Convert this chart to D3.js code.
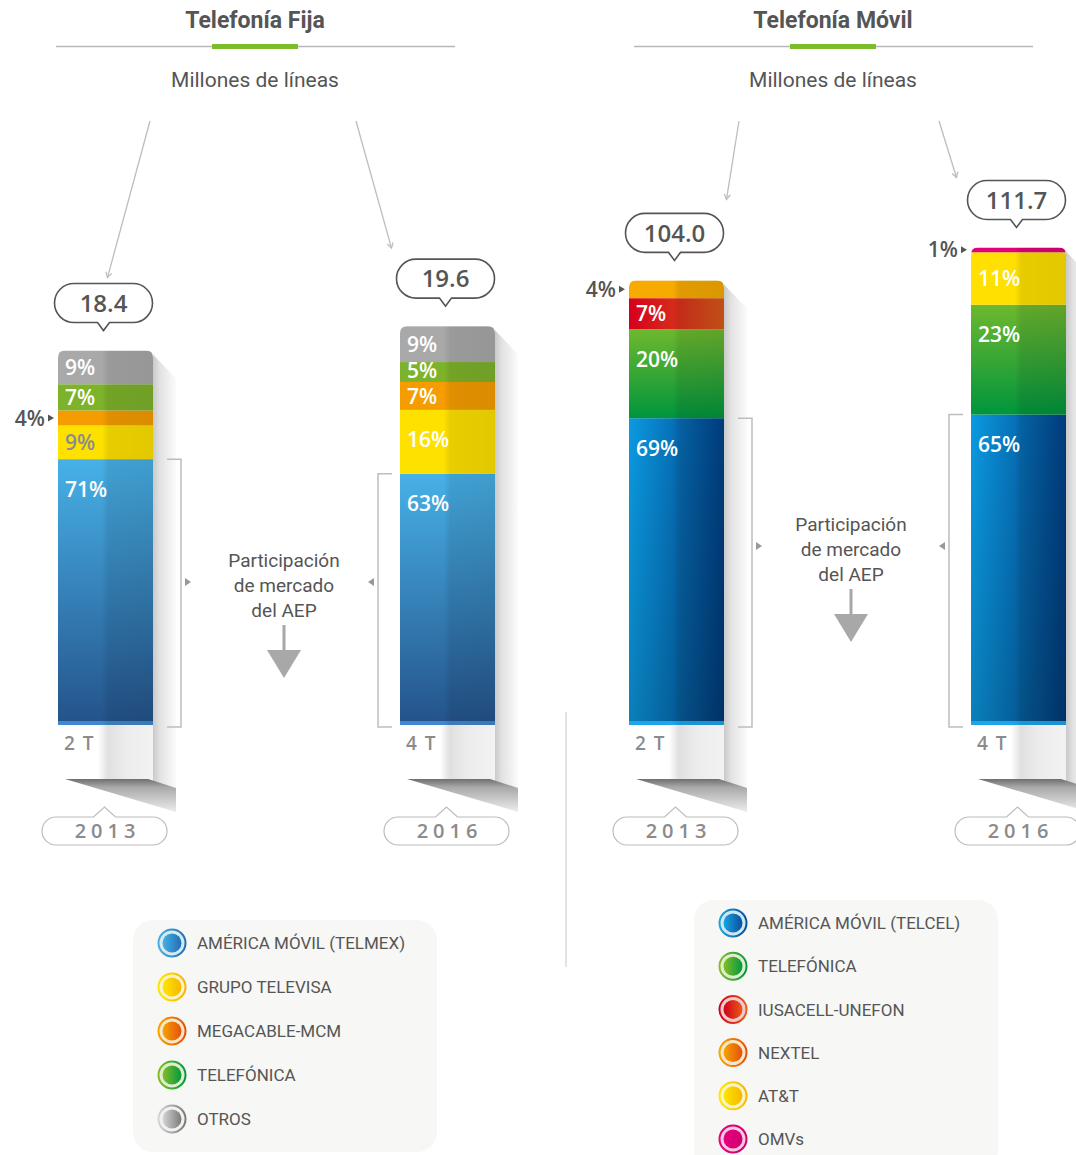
<!DOCTYPE html>
<html>
<head>
<meta charset="utf-8">
<script src="https://cdn.jsdelivr.net/npm/d3@7"></script>
<style>
  body { margin: 0; background: #fff; }
  svg { display: block; font-family: Roboto, "Noto Sans", sans-serif; }
</style>
</head>
<body>
<svg id="chart" width="1076" height="1155"></svg>
<script>
// ---- data (millones de líneas, participación %) ----
const fijaYears = ["2013", "2016"];
const fijaQuarters = ["2 T", "4 T"];
const fijaTotals = [18.4, 19.6];
const fijaCompanies = ["AMÉRICA MÓVIL (TELMEX)", "GRUPO TELEVISA", "MEGACABLE-MCM", "TELEFÓNICA", "OTROS"];
const fijaShares2013 = [71, 9, 4, 7, 9];
const fijaShares2016 = [63, 16, 7, 5, 9];

const movilYears = ["2013", "2016"];
const movilQuarters = ["2 T", "4 T"];
const movilTotals = [104.0, 111.7];
const movilCompanies = ["AMÉRICA MÓVIL (TELCEL)", "TELEFÓNICA", "IUSACELL-UNEFON", "NEXTEL", "AT&T", "OMVs"];
const movilShares2013 = [69, 20, 7, 4, 0, 0];
const movilShares2016 = [65, 23, 0, 0, 11, 1];

const aepLines = ["Participación", "de mercado", "del AEP"];

// ---- styles ----
// [direction, top/left colour, bottom/right colour, extra vertical shade]
const fijaSegStyle = [
  ["v", "#47b1e7", "#24528a", false],
  ["h", "#ffe100", "#ffe100", false],
  ["h", "#f59d00", "#f59d00", false],
  ["h", "#7db32a", "#7db32a", false],
  ["h", "#a9a9a9", "#a9a9a9", false]
];
const movilSegStyle = [
  ["h", "#0b9ae1", "#00428a", true],
  ["v", "#6eb82e", "#00953d", false],
  ["h", "#d6001d", "#d75a1a", false],
  ["h", "#f7aa00", "#f7aa00", false],
  ["h", "#ffe000", "#ffe000", false],
  ["h", "#e2007b", "#e2007b", false]
];
const fijaMarkStyle = [["#48b0e4", "#1f6fb8"], ["#ffe600", "#f6b600"], ["#f7a300", "#e4500f"], ["#84bd28", "#009a3f"], ["#d6d6d6", "#7a7a7a"]];
const movilMarkStyle = [["#1aa3e3", "#0a4f9c"], ["#84bd28", "#009a3f"], ["#cf001a", "#ea5a18"], ["#f7a300", "#e4500f"], ["#ffe600", "#f6b600"], ["#e6007e", "#d0006f"]];

const svg = d3.select("#chart");
const defs = svg.append("defs");

function linGrad(id, dir, stops) {
  const g = defs.append("linearGradient").attr("id", id)
    .attr("x1", 0).attr("y1", 0)
    .attr("x2", dir === "h" ? 1 : 0).attr("y2", dir === "h" ? 0 : 1);
  stops.forEach(s => g.append("stop")
    .attr("offset", s[0]).attr("stop-color", s[1])
    .attr("stop-opacity", s[2] == null ? 1 : s[2]));
  return "url(#" + id + ")";
}

const halfShade = linGrad("halfShade", "h", [[0, "#000", 0], [0.46, "#000", 0], [0.53, "#000", 0.09], [1, "#000", 0.11]]);
const vertShade = linGrad("vertShade", "v", [[0, "#000", 0], [1, "#000", 0.17]]);
const sideShadow = linGrad("sideShadow", "h", [[0, "#c9c9c9"], [0.3, "#e2e2e2"], [1, "#fbfbfb"]]);
const underShadow = linGrad("underShadow", "h", [[0, "#fff"], [0.18, "#e0e0e0"], [0.5, "#ececec"], [1, "#f2f2f2"]]);
const wedgeFill = linGrad("wedgeFill", "v", [[0, "#6f6f6f"], [0.25, "#a9a9a9"], [1, "#ededed"]]);

const fijaY = d3.scaleLinear().domain([0, 20]).range([725, 318]);
const movilY = d3.scaleLinear().domain([0, 120]).range([725, 212]);

const panels = [
  {
    key: "f", title: "Telefonía Fija", cx: 255,
    years: fijaYears, quarters: fijaQuarters, totals: fijaTotals,
    companies: fijaCompanies, shares: [fijaShares2013, fijaShares2016],
    seg: fijaSegStyle, mark: fijaMarkStyle, y: fijaY, xRange: [58, 495],
    base: "#3f88cf", textCx: 284, textY: 567,
    legend: { x: 133, y: 920, w: 304, h: 232, first: 943, step: 44 },
    arrowStart: [-105, 101], arrowEnd: [[4, -6], [-54, -11]]
  },
  {
    key: "m", title: "Telefonía Móvil", cx: 833,
    years: movilYears, quarters: movilQuarters, totals: movilTotals,
    companies: movilCompanies, shares: [movilShares2013, movilShares2016],
    seg: movilSegStyle, mark: movilMarkStyle, y: movilY, xRange: [629, 1066],
    base: "#1ea4ea", textCx: 851, textY: 531,
    legend: { x: 694, y: 900, w: 304, h: 270, first: 923, step: 43.2 },
    arrowStart: [-94, 106], arrowEnd: [[52, -14], [-60, -3]]
  }
];

// divider between panels
svg.append("line").attr("x1", 566).attr("x2", 566).attr("y1", 712).attr("y2", 967)
  .attr("stroke", "#c8c8c8").attr("stroke-width", 1);

panels.forEach(p => {
  const g = svg.append("g");
  const x = d3.scaleBand().domain(p.years).range(p.xRange).paddingInner(247 / 342);
  const bw = x.bandwidth();
  const y = p.y;

  // header
  g.append("text").attr("x", p.cx).attr("y", 28).attr("text-anchor", "middle")
    .attr("font-size", 23).attr("font-weight", 700).attr("fill", "#555").text(p.title);
  g.append("line").attr("x1", p.cx - 199).attr("x2", p.cx + 200).attr("y1", 46.5).attr("y2", 46.5)
    .attr("stroke", "#b8b8b8").attr("stroke-width", 1.5);
  g.append("line").attr("x1", p.cx - 43).attr("x2", p.cx + 43).attr("y1", 46.5).attr("y2", 46.5)
    .attr("stroke", "#7cbd2c").attr("stroke-width", 5);
  g.append("text").attr("x", p.cx).attr("y", 87).attr("text-anchor", "middle")
    .attr("font-size", 21).attr("fill", "#555").text("Millones de líneas");

  // gradients per company
  const segFill = p.seg.map((s, j) => linGrad("seg-" + p.key + j, s[0], [[0, s[1]], [1, s[2]]]));

  // stack values in millions
  const rows = p.years.map((yr, i) => {
    const r = { year: yr };
    p.companies.forEach((c, j) => { r[c] = p.totals[i] * p.shares[i][j] / 100; });
    return r;
  });
  const series = d3.stack().keys(p.companies)(rows);

  p.years.forEach((yr, i) => {
    const bx = x(yr);
    const top = y(p.totals[i]);
    const bottom = y(0);
    const cxb = bx + bw / 2;

    // shadows
    g.append("rect").attr("x", bx + 40).attr("y", bottom).attr("width", bw - 40).attr("height", 56)
      .attr("fill", underShadow);
    g.append("polygon")
      .attr("points", [[bx + bw, top + 4], [bx + bw + 23, top + 28], [bx + bw + 23, 812], [bx + bw, 790]].join(" "))
      .attr("fill", sideShadow);
    g.append("polygon")
      .attr("points", [[bx + 7, 779], [bx + 90, 779], [bx + bw + 23, 788], [bx + bw + 23, 812]].join(" "))
      .attr("fill", wedgeFill);

    // bar clip with rounded top
    const r = 7;
    defs.append("clipPath").attr("id", "clip-" + p.key + i)
      .append("path")
      .attr("d", `M${bx},${bottom} V${top + r} Q${bx},${top} ${bx + r},${top} H${bx + bw - r} Q${bx + bw},${top} ${bx + bw},${top + r} V${bottom} Z`);
    const bar = g.append("g").attr("clip-path", "url(#clip-" + p.key + i + ")");

    series.forEach((s, j) => {
      const d = s[i];
      if (p.shares[i][j] <= 0) return;
      const y0 = y(d[1]), y1 = y(d[0]);
      bar.append("rect").attr("x", bx).attr("y", y0).attr("width", bw).attr("height", y1 - y0)
        .attr("fill", segFill[j]);
      if (p.seg[j][3]) {
        bar.append("rect").attr("x", bx).attr("y", y0).attr("width", bw).attr("height", y1 - y0)
          .attr("fill", vertShade);
      }
    });
    bar.append("rect").attr("x", bx).attr("y", bottom - 4).attr("width", bw).attr("height", 4)
      .attr("fill", p.base);
    bar.append("rect").attr("x", bx).attr("y", top).attr("width", bw).attr("height", bottom - top)
      .attr("fill", halfShade);

    // share labels
    series.forEach((s, j) => {
      const d = s[i];
      const share = p.shares[i][j];
      if (share <= 0) return;
      const y0 = y(d[1]), y1 = y(d[0]);
      const h = y1 - y0;
      if (share >= 5) {
        const yellow = p.seg[j][1] === "#ffe100" || p.seg[j][1] === "#ffe000";
        const ly = h < 22 ? y0 + h / 2 - 2 : y0 + Math.min(h / 2, 30);
        g.append("text").attr("x", bx + 7).attr("y", ly).attr("dy", "0.36em")
          .attr("font-family", "'Open Sans', sans-serif").attr("font-weight", 600).attr("font-size", 21)
          .attr("fill", yellow && share < 10 ? "#8c8c8c" : "#fff").text(share + "%");
      } else {
        const ym = (y0 + y1) / 2;
        g.append("text").attr("x", bx - 13).attr("y", ym).attr("dy", "0.36em").attr("text-anchor", "end")
          .attr("font-family", "'Open Sans', sans-serif").attr("font-weight", 600).attr("font-size", 21)
          .attr("fill", "#555").text(share + "%");
        g.append("path").attr("d", `M${bx - 10},${ym - 3.5} L${bx - 4},${ym} L${bx - 10},${ym + 3.5} Z`)
          .attr("fill", "#555");
      }
    });

    // total bubble
    const bcx = cxb - 2, bb = top - 28, bt = bb - 39, hw = 49, rr = 19.5;
    g.append("path")
      .attr("d", `M${bcx - hw + rr},${bt} H${bcx + hw - rr} A${rr},${rr} 0 0 1 ${bcx + hw - rr},${bb} H${bcx + 6} L${bcx},${bb + 8} L${bcx - 6},${bb} H${bcx - hw + rr} A${rr},${rr} 0 0 1 ${bcx - hw + rr},${bt} Z`)
      .attr("fill", "#fff").attr("stroke", "#555").attr("stroke-width", 1.6);
    g.append("text").attr("x", bcx).attr("y", bt + 19.5).attr("dy", "0.36em").attr("text-anchor", "middle")
      .attr("font-family", "'Open Sans', sans-serif").attr("font-weight", 600).attr("font-size", 24)
      .attr("fill", "#555").text(d3.format(".1f")(p.totals[i]));

    // thin pointer from subtitle
    const sx = p.cx + p.arrowStart[i], sy = 121;
    const ex = bcx + p.arrowEnd[i][0], ey = bt + p.arrowEnd[i][1];
    g.append("line").attr("x1", sx).attr("y1", sy).attr("x2", ex).attr("y2", ey)
      .attr("stroke", "#bdbdbd").attr("stroke-width", 1.3);
    const ang = Math.atan2(ey - sy, ex - sx);
    const a1 = ang + Math.PI * 0.83, a2 = ang - Math.PI * 0.83;
    g.append("path")
      .attr("d", `M${ex + 6 * Math.cos(a1)},${ey + 6 * Math.sin(a1)} L${ex},${ey} L${ex + 6 * Math.cos(a2)},${ey + 6 * Math.sin(a2)}`)
      .attr("fill", "none").attr("stroke", "#bdbdbd").attr("stroke-width", 1.3);

    // AEP bracket
    const aepTop = y(series[0][i][1]);
    const side = i === 0 ? 1 : -1;
    const brx = side > 0 ? bx + bw + 28 : bx - 22;
    g.append("path")
      .attr("d", `M${brx - 14 * side},${aepTop} H${brx} V${bottom + 2} H${brx - 14 * side}`)
      .attr("fill", "none").attr("stroke", "#bdbdbd").attr("stroke-width", 1.5);
    const ay = p.textY + 15;
    g.append("path")
      .attr("d", `M${brx + 4 * side},${ay - 4} L${brx + 10 * side},${ay} L${brx + 4 * side},${ay + 4} Z`)
      .attr("fill", "#999");

    // quarter label
    g.append("text").attr("x", bx + 6).attr("y", 750).attr("font-family", "'Open Sans', sans-serif")
      .attr("font-weight", 600).attr("font-size", 19).attr("letter-spacing", 1.5).attr("fill", "#8b8b8b")
      .text(p.quarters[i]);

    // year pill
    const pcx = cxb - 1, pt = 817, pb = 845, phw = 62.5, pr = 14;
    g.append("path")
      .attr("d", `M${pcx - phw + pr},${pt} H${pcx - 11} L${pcx},${pt - 10} L${pcx + 11},${pt} H${pcx + phw - pr} A${pr},${pr} 0 0 1 ${pcx + phw - pr},${pb} H${pcx - phw + pr} A${pr},${pr} 0 0 1 ${pcx - phw + pr},${pt} Z`)
      .attr("fill", "#fff").attr("stroke", "#bcbcbc").attr("stroke-width", 1.2);
    g.append("text").attr("x", pcx + 3).attr("y", 831).attr("dy", "0.36em").attr("text-anchor", "middle")
      .attr("font-family", "'Open Sans', sans-serif").attr("font-weight", 600).attr("font-size", 20)
      .attr("letter-spacing", 5).attr("fill", "#8b8b8b").text(yr);
  });

  // AEP note
  aepLines.forEach((t, k) => {
    g.append("text").attr("x", p.textCx).attr("y", p.textY + k * 25).attr("text-anchor", "middle")
      .attr("font-size", 19).attr("fill", "#555").text(t);
  });
  g.append("rect").attr("x", p.textCx - 1.5).attr("y", p.textY + 58).attr("width", 3).attr("height", 26)
    .attr("fill", "#a8a8a8");
  g.append("path")
    .attr("d", `M${p.textCx - 17},${p.textY + 83} L${p.textCx + 17},${p.textY + 83} L${p.textCx},${p.textY + 111} Z`)
    .attr("fill", "#a8a8a8");

  // legend
  const L = p.legend;
  g.append("rect").attr("x", L.x).attr("y", L.y).attr("width", L.w).attr("height", L.h).attr("rx", 20)
    .attr("fill", "#f7f7f5");
  const ly = d3.scaleLinear().domain([0, 1]).range([L.first, L.first + L.step]);
  p.companies.forEach((c, j) => {
    const cy = ly(j), mx = L.x + 39;
    const ring = linGrad("ring-" + p.key + j, "h", [[0, p.mark[j][0]], [1, p.mark[j][1]]]);
    g.append("circle").attr("cx", mx).attr("cy", cy).attr("r", 13.5)
      .attr("fill", p.mark[j][0]).attr("fill-opacity", 0.18)
      .attr("stroke", ring).attr("stroke-width", 2);
    g.append("circle").attr("cx", mx).attr("cy", cy).attr("r", 9.5).attr("fill", ring);
    g.append("text").attr("x", L.x + 64).attr("y", cy).attr("dy", "0.36em")
      .attr("font-size", 17).attr("fill", "#555").text(c);
  });
});
</script>
</body>
</html>
